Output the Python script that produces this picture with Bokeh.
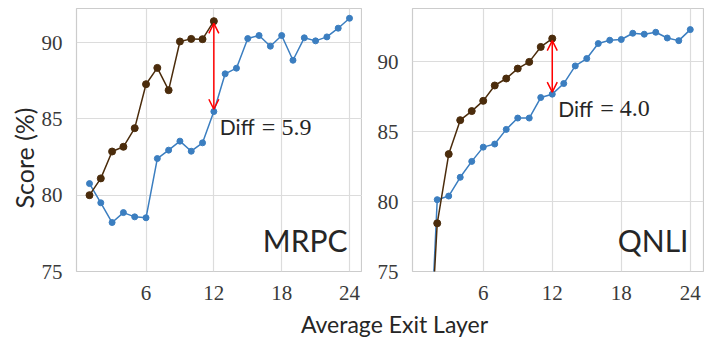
from bokeh.plotting import figure
from bokeh.models import Label, Arrow, OpenHead, FixedTicker, Range1d
from bokeh.layouts import row, column
from bokeh.embed import file_html
from bokeh.resources import INLINE

layers = list(range(1, 25))
layers_half = list(range(1, 13))

mrpc_base = [80.76, 79.50, 78.21, 78.86, 78.58, 78.52, 82.40, 82.95, 83.54, 82.88, 83.43, 85.48,
             87.95, 88.32, 90.26, 90.46, 89.76, 90.46, 88.84, 90.31, 90.11, 90.37, 90.94, 91.59]
mrpc_ours = [80.00, 81.10, 82.86, 83.17, 84.39, 87.27, 88.34, 86.88, 90.07, 90.24, 90.22, 91.40]

qnli_base = [62.4, 80.14, 80.40, 81.74, 82.88, 83.90, 84.12, 85.17, 85.98, 85.98, 87.45, 87.69,
             88.45, 89.71, 90.24, 91.31, 91.55, 91.60, 92.05, 91.98, 92.12, 91.71, 91.52, 92.31]
qnli_ours = [63.5, 78.45, 83.40, 85.83, 86.48, 87.21, 88.31, 88.81, 89.52, 90.00, 91.07, 91.67]

x_ticks = [6, 12, 18, 24]
y_ticks = [75, 80, 85, 90]

BLUE = "#3b7ec0"
BROWN = "#4b2c0c"
SANS = "Lato"
SERIF = "Liberation Serif"
TXT = "#262626"


def blank(width, height):
    b = figure(width=width, height=height, output_backend="svg", toolbar_location=None,
               x_range=Range1d(0, width), y_range=Range1d(0, height),
               x_axis_location=None, y_axis_location=None, min_border=0)
    b.outline_line_color = None
    b.grid.visible = False
    return b


def panel(base, ours, name, ylim, width, left, right):
    p = figure(width=width, height=308, output_backend="svg", toolbar_location=None,
               x_range=Range1d(-0.15, 25.15), y_range=Range1d(*ylim),
               min_border_left=left, min_border_right=right, min_border_top=8, min_border_bottom=37)
    p.outline_line_color = "#cccccc"
    p.outline_line_width = 1.2
    p.background_fill_color = "white"
    p.border_fill_color = "white"
    for ax in (p.xaxis[0], p.yaxis[0]):
        ax.axis_line_color = None
        ax.major_tick_line_color = None
        ax.minor_tick_line_color = None
        ax.major_label_text_font = SERIF
        ax.major_label_text_font_size = "21px"
        ax.major_label_text_color = "#3a3a3a"
        ax.major_label_standoff = 8
    p.xaxis.ticker = FixedTicker(ticks=x_ticks)
    p.yaxis.ticker = FixedTicker(ticks=y_ticks)
    p.grid.grid_line_color = "#dcdcdc"
    p.grid.grid_line_width = 1.2

    p.line(layers, base, color=BLUE, line_width=1.5)
    p.scatter(layers, base, size=6, color=BLUE)
    p.line(layers_half, ours, color=BROWN, line_width=1.5)
    p.scatter(layers_half, ours, size=7, color=BROWN)

    p.add_layout(Arrow(start=OpenHead(size=10, line_color="red", line_width=1.5),
                       end=OpenHead(size=10, line_color="red", line_width=1.5),
                       x_start=layers_half[-1], y_start=ours[-1] - 0.15,
                       x_end=layers_half[-1], y_end=base[11] + 0.15,
                       line_color="red", line_width=1.5))
    diff = ours[-1] - base[11]
    ty = base[11] - 1.0
    p.add_layout(Label(x=12, y=ty, x_offset=6, text="Diff", text_font=SANS,
                       text_font_size="21px", text_color=TXT, text_baseline="middle"))
    p.add_layout(Label(x=12, y=ty, x_offset=48, text="= %.1f" % diff, text_font=SERIF,
                       text_font_size="24px", text_color=TXT, text_baseline="middle"))
    p.add_layout(Label(x=25.15, y=ylim[0], x_offset=-15, y_offset=32, text=name,
                       text_font=SANS, text_font_size="30px", text_color=TXT,
                       text_align="right", text_baseline="alphabetic"))
    return p


p0 = blank(38, 308)
p0.add_layout(Label(x=23, y=133, text="Score (%)", text_font=SANS, text_font_size="25px",
                    text_color=TXT, angle=90, angle_units="deg",
                    text_align="center", text_baseline="middle"))

p1 = panel(mrpc_base, mrpc_ours, "MRPC", (75, 92.23), 324, 33, 0)
p2 = panel(qnli_base, qnli_ours, "QNLI", (75, 93.82), 342, 50, 1)

p3 = blank(704, 30)
p3.add_layout(Label(x=394, y=15, text="Average Exit Layer", text_font=SANS, text_font_size="23px",
                    text_color=TXT, text_align="center", text_baseline="alphabetic"))

layout = column(row(p0, p1, p2), p3)
open("out.html", "w").write(file_html(layout, INLINE))
